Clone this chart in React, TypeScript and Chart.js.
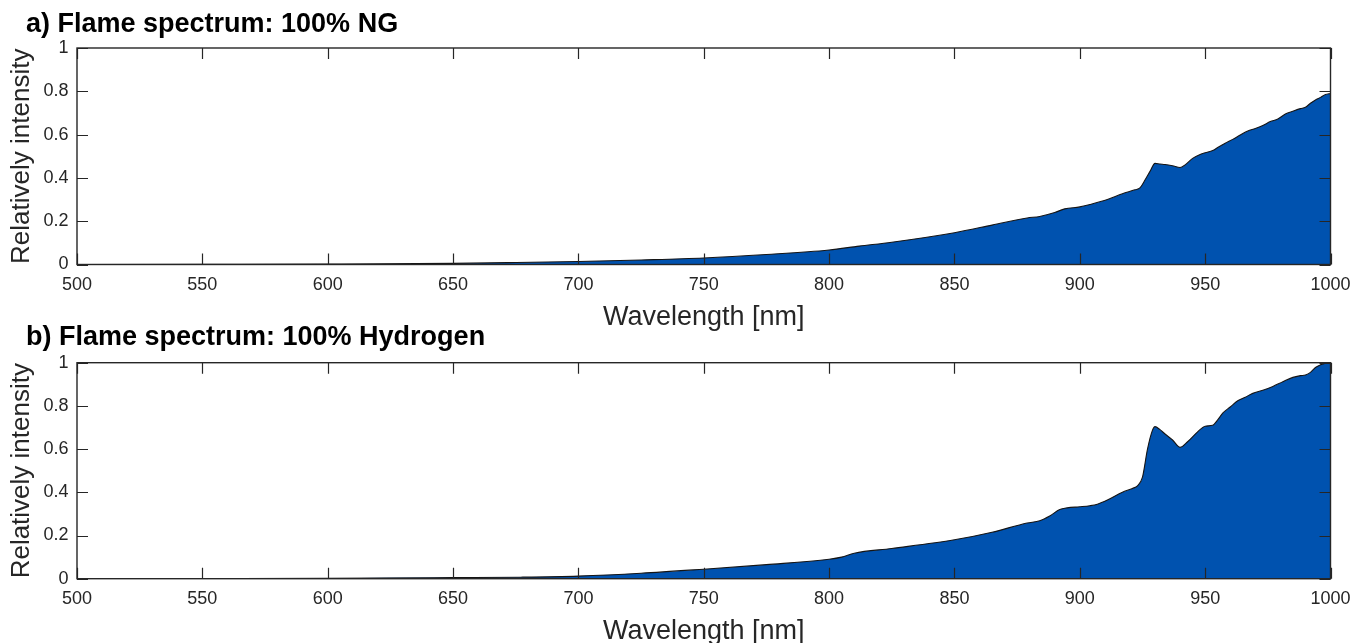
import React, { useEffect, useRef } from "react";
import { Chart, registerables } from "chart.js";

Chart.register(...registerables);

// ---- data ----
const titleA = "a) Flame spectrum: 100% NG";
const titleB = "b) Flame spectrum: 100% Hydrogen";
const xAxisTitle = "Wavelength [nm]";
const yAxisTitle = "Relatively intensity";

const xTickValues = [500, 550, 600, 650, 700, 750, 800, 850, 900, 950, 1000];
const yTickValues = [0, 0.2, 0.4, 0.6, 0.8, 1];

const ngWavelengths = [500, 550, 600, 650, 675, 700, 725, 750, 775, 800, 812, 825, 850, 865, 879, 884, 890, 894, 900, 904, 911, 917, 922, 924, 926, 928, 930, 932, 934, 937, 940, 942, 945, 948, 950, 953, 955, 958, 961, 964, 967, 970, 973, 976, 979, 982, 985, 988, 990, 992, 994, 996, 998, 1000];
const ngIntensity = [0, 0.001, 0.002, 0.005, 0.009, 0.014, 0.021, 0.03, 0.046, 0.067, 0.085, 0.103, 0.147, 0.182, 0.215, 0.222, 0.24, 0.257, 0.266, 0.277, 0.3, 0.327, 0.345, 0.354, 0.39, 0.43, 0.467, 0.464, 0.462, 0.456, 0.448, 0.46, 0.49, 0.508, 0.516, 0.526, 0.54, 0.56, 0.578, 0.598, 0.617, 0.628, 0.642, 0.66, 0.672, 0.695, 0.708, 0.72, 0.726, 0.745, 0.76, 0.772, 0.785, 0.79];

const h2Wavelengths = [500, 550, 600, 650, 677, 700, 725, 750, 775, 800, 805, 810, 825, 850, 865, 879, 884, 888, 892, 895, 900, 904, 907, 911, 917, 921, 923, 925, 927, 929, 930, 932, 934, 937, 940, 943, 947, 950, 953, 955, 957, 960, 963, 966, 969, 973, 977, 981, 985, 988, 990, 992, 994, 996, 998, 1000];
const h2Intensity = [0, 0.001, 0.002, 0.005, 0.007, 0.012, 0.025, 0.044, 0.065, 0.09, 0.1, 0.118, 0.14, 0.18, 0.215, 0.258, 0.268, 0.29, 0.32, 0.328, 0.333, 0.338, 0.345, 0.364, 0.4, 0.418, 0.43, 0.47, 0.6, 0.688, 0.704, 0.69, 0.67, 0.642, 0.608, 0.634, 0.68, 0.706, 0.71, 0.735, 0.766, 0.795, 0.824, 0.84, 0.858, 0.872, 0.89, 0.912, 0.932, 0.94, 0.943, 0.955, 0.978, 0.99, 0.998, 1.0];

// ---- styling ----
const FONT = "'Liberation Sans', Arial, Helvetica, sans-serif";
const FILL = "rgb(0, 82, 175)";
const AXIS = "#262626";

const boxTicks = {
  id: "boxTicks",
  afterDatasetsDraw(chart: any) {
    const { ctx, chartArea: a, scales } = chart;
    const x = scales.x;
    const y = scales.y;
    const len = 11;
    ctx.save();
    ctx.strokeStyle = AXIS;
    ctx.lineWidth = 1.2;
    ctx.beginPath();
    x.ticks.forEach((t: any) => {
      const px = Math.round(x.getPixelForValue(t.value)) + 0.5;
      ctx.moveTo(px, a.bottom);
      ctx.lineTo(px, a.bottom - len);
      ctx.moveTo(px, a.top);
      ctx.lineTo(px, a.top + len);
    });
    y.ticks.forEach((t: any) => {
      const py = Math.round(y.getPixelForValue(t.value)) + 0.5;
      ctx.moveTo(a.left, py);
      ctx.lineTo(a.left + len, py);
      ctx.moveTo(a.right, py);
      ctx.lineTo(a.right - len, py);
    });
    ctx.stroke();
    ctx.lineWidth = 1.4;
    ctx.strokeRect(a.left, a.top, a.right - a.left, a.bottom - a.top);
    ctx.restore();
  },
};

type Layout = {
  height: number;
  titleTop: number;
  titleBottom: number;
  areaBottom: number;
  xTitlePad: number;
};

function makeConfig(title: string, wl: number[], vals: number[], L: Layout): any {
  return {
    type: "line",
    data: {
      datasets: [
        {
          data: wl.map((w, i) => ({ x: w, y: vals[i] })),
          borderColor: "#151515",
          borderWidth: 1.1,
          backgroundColor: FILL,
          fill: "origin",
          pointRadius: 0,
          cubicInterpolationMode: "monotone",
        },
      ],
    },
    options: {
      animation: false,
      responsive: false,
      events: [],
      layout: { padding: { left: 26, right: 1365 - 1330.5, top: 0, bottom: 0 } },
      plugins: {
        legend: { display: false },
        tooltip: { enabled: false },
        title: {
          display: true,
          text: title,
          align: "start",
          color: "#000",
          font: { family: FONT, size: 27, weight: "bold" },
          padding: { top: L.titleTop, bottom: L.titleBottom },
        },
      },
      scales: {
        x: {
          type: "linear",
          min: 500,
          max: 1000,
          afterBuildTicks: (s: any) => {
            s.ticks = xTickValues.map((v) => ({ value: v }));
          },
          afterFit: (s: any) => {
            s.height = L.height - L.areaBottom;
          },
          grid: { display: false, drawTicks: false },
          border: { display: false },
          ticks: {
            color: AXIS,
            padding: 10,
            maxRotation: 0,
            autoSkip: false,
            font: { family: FONT, size: 18 },
            callback: (v: any) => String(v),
          },
          title: {
            display: true,
            text: xAxisTitle,
            color: AXIS,
            font: { family: FONT, size: 27 },
            padding: { top: 0, bottom: L.xTitlePad },
          },
        },
        y: {
          type: "linear",
          min: 0,
          max: 1,
          afterBuildTicks: (s: any) => {
            s.ticks = yTickValues.map((v) => ({ value: v }));
          },
          afterFit: (s: any) => {
            s.width = 77 - 26;
          },
          grid: { display: false, drawTicks: false },
          border: { display: false },
          ticks: {
            color: AXIS,
            padding: 8.5,
            autoSkip: false,
            font: { family: FONT, size: 18 },
            callback: (v: any) => String(Math.round(v * 10) / 10),
          },
          title: {
            display: true,
            text: yAxisTitle,
            color: AXIS,
            font: { family: FONT, size: 26 },
            padding: { top: -19.6, bottom: 0 },
          },
        },
      },
    },
    plugins: [boxTicks],
  };
}

function SpectrumChart(props: { title: string; wl: number[]; vals: number[]; top: number; layout: Layout }) {
  const ref = useRef<HTMLCanvasElement | null>(null);
  useEffect(() => {
    if (!ref.current) return;
    const chart = new Chart(ref.current, makeConfig(props.title, props.wl, props.vals, props.layout));
    return () => chart.destroy();
  }, []);
  const h = props.layout.height;
  return (
    <canvas
      ref={ref}
      width={1365}
      height={h}
      style={{ position: "absolute", left: 0, top: props.top, width: 1365, height: h }}
    />
  );
}

export default function App() {
  return (
    <div style={{ position: "absolute", left: 0, top: 0, width: 1365, height: 643, background: "#fff", overflow: "hidden" }}>
      <SpectrumChart
        title={titleA}
        wl={ngWavelengths}
        vals={ngIntensity}
        top={0}
        layout={{ height: 340, titleTop: 8.3, titleBottom: 7.3, areaBottom: 264.5, xTitlePad: 6.5 }}
      />
      <SpectrumChart
        title={titleB}
        wl={h2Wavelengths}
        vals={h2Intensity}
        top={315}
        layout={{ height: 328, titleTop: 6.8, titleBottom: 8.5, areaBottom: 263.7, xTitlePad: -4.7 }}
      />
    </div>
  );
}
